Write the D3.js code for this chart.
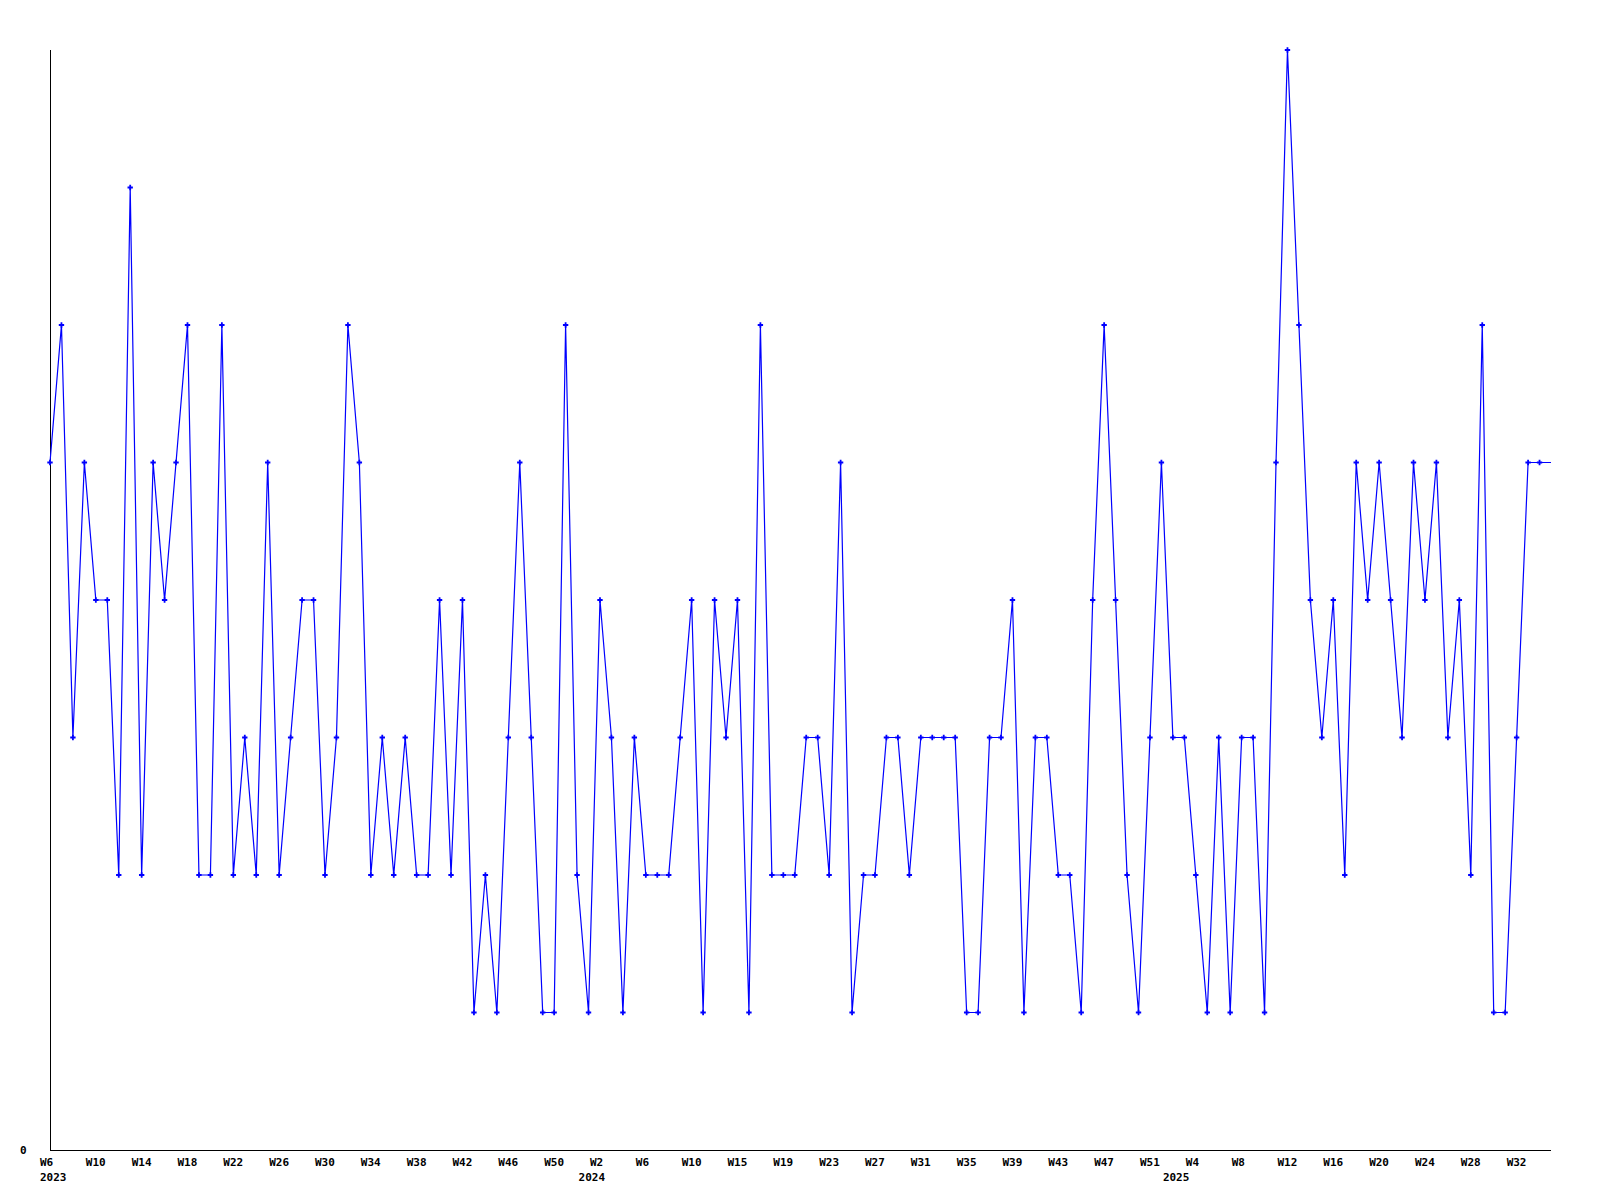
<!DOCTYPE html>
<html>
<head>
<meta charset="utf-8">
<script src="https://cdn.jsdelivr.net/npm/d3@7"></script>
<style>
  html, body { margin: 0; padding: 0; background: #fff; }
  svg { display: block; }
  text { font-family: "DejaVu Sans Mono", "Liberation Mono", monospace; font-weight: bold; font-size: 11px; fill: #000; }
</style>
</head>
<body>
<svg id="chart" width="1600" height="1200"></svg>
<script>
// Weekly values (one per week, starting W6 2023); the last entry is the current (unmarked) week
const values = [
  5,6,3,5,4,4,2,7,2,5,
  4,5,6,2,2,6,2,3,2,5,
  2,3,4,4,2,3,6,5,2,3,
  2,3,2,2,4,2,4,1,2,1,
  3,5,3,1,1,6,2,1,4,3,
  1,3,2,2,2,3,4,1,4,3,
  4,1,6,2,2,2,3,3,2,5,
  1,2,2,3,3,2,3,3,3,3,
  1,1,3,3,4,1,3,3,2,2,
  1,4,6,4,2,1,3,5,3,3,
  2,1,3,1,3,3,1,5,8,6,
  4,3,4,2,5,4,5,4,3,5,
  4,5,3,4,2,6,1,1,3,5,
  5,5
];
// X tick labels, one every 4 weeks
const tickWeeks = [
  "W6","W10","W14","W18","W22","W26","W30","W34","W38","W42","W46","W50",
  "W2","W6","W10","W15","W19","W23","W27","W31","W35","W39","W43","W47","W51",
  "W4","W8","W12","W16","W20","W24","W28","W32"
];
const tickStep = 4;
// Year labels and the week (point index) where each year begins
const yearLabels = ["2023", "2024", "2025"];
const yearStartIndex = [0, 47, 98];
const yMax = 8;
const yTickLabels = ["0"];

const svg = d3.select("#chart");
const mLeft = 50, mRight = 1551, mTop = 50, mBottom = 1150;

const x = d3.scaleLinear().domain([0, values.length - 1]).range([mLeft, mRight]);
const y = d3.scaleLinear().domain([0, yMax]).range([mBottom, mTop]);

// axes lines
svg.append("line")
  .attr("x1", mLeft + 0.5).attr("x2", mLeft + 0.5)
  .attr("y1", y(yMax)).attr("y2", mBottom + 0.5)
  .attr("stroke", "#000").attr("stroke-width", 1).attr("shape-rendering", "crispEdges");
svg.append("line")
  .attr("x1", mLeft).attr("x2", x(values.length - 1))
  .attr("y1", mBottom + 0.5).attr("y2", mBottom + 0.5)
  .attr("stroke", "#000").attr("stroke-width", 1).attr("shape-rendering", "crispEdges");

// y label
svg.selectAll("text.ylab").data(yTickLabels).enter().append("text")
  .attr("class", "ylab")
  .attr("x", mLeft - 30)
  .attr("y", (d) => y(+d) + 4)
  .text(d => d);

// x tick labels
const ticks = tickWeeks.map((w, k) => ({ idx: k * tickStep, week: w }));
svg.selectAll("text.xw").data(ticks).enter().append("text")
  .attr("class", "xw")
  .attr("x", d => x(d.idx) - 10)
  .attr("y", mBottom + 16)
  .text(d => d.week);
const years = yearLabels.map((yr, k) => ({ idx: yearStartIndex[k], year: yr }));
svg.selectAll("text.xy").data(years).enter().append("text")
  .attr("class", "xy")
  .attr("x", d => x(d.idx) - 10)
  .attr("y", mBottom + 31)
  .text(d => d.year);

// line
const line = d3.line().x((d, i) => x(i)).y(d => y(d));
svg.append("path")
  .datum(values)
  .attr("d", line)
  .attr("fill", "none")
  .attr("stroke", "#0000ff")
  .attr("stroke-width", 1.2);

// markers (all completed weeks)
const marked = values.slice(0, values.length - 1);
svg.selectAll("path.mk").data(marked).enter().append("path")
  .attr("class", "mk")
  .attr("transform", (d, i) => `translate(${x(i)},${y(d)})`)
  .attr("d", d3.symbol().type(d3.symbolCross).size(16))
  .attr("fill", "#0000ff");
</script>
</body>
</html>
